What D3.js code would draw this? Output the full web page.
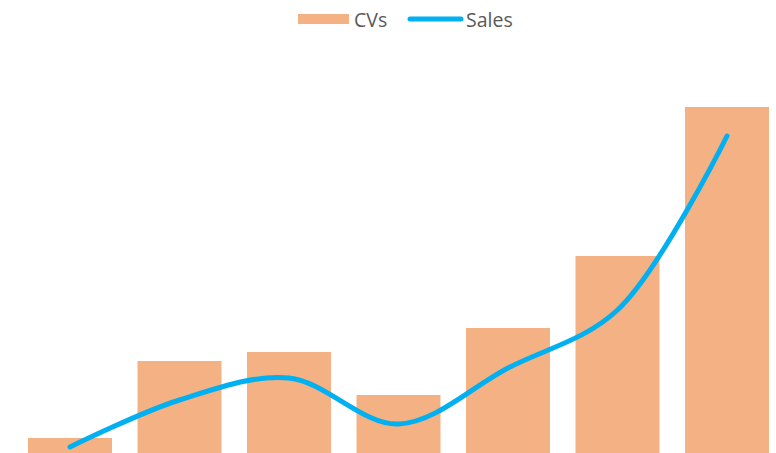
<!DOCTYPE html>
<html><head><meta charset="utf-8">
<script src="https://cdn.jsdelivr.net/npm/d3@7"></script>
<style>html,body{margin:0;padding:0;background:#fff;}svg{display:block;}</style>
</head><body>
<svg id="chart" width="776" height="453"></svg>
<script>
const categories = ["1","2","3","4","5","6","7"];
const cvs = [15, 92, 101, 58, 125, 197, 346];
const sales = [6, 53, 75, 29, 85, 143, 317];
const seriesNames = ["CVs", "Sales"];

const svg = d3.select("#chart");
const x = d3.scaleBand().domain(categories).range([28, 769]).paddingInner(0.233).paddingOuter(0);
const y = d3.scaleLinear().domain([0, 350]).range([453, 103]);

svg.selectAll("rect.bar").data(cvs).enter().append("rect")
  .attr("class","bar")
  .attr("x",(d,i)=>x(categories[i]))
  .attr("width",x.bandwidth())
  .attr("y",d=>y(d))
  .attr("height",d=>y(0)-y(d))
  .attr("fill","#F4B183");

const line = d3.line()
  .x((d,i)=>x(categories[i])+x.bandwidth()/2)
  .y(d=>y(d))
  .curve(d3.curveCatmullRom.alpha(0.5));
svg.append("path").datum(sales)
  .attr("d",line)
  .attr("fill","none")
  .attr("stroke","#00B0F0")
  .attr("stroke-width",5)
  .attr("stroke-linecap","round");

// legend
const lg = svg.append("g");
lg.append("rect").attr("x",298).attr("y",14).attr("width",51).attr("height",10).attr("fill","#F4B183");
lg.append("text").attr("x",354).attr("y",26.5).text(seriesNames[0])
  .attr("font-family","Open Sans, sans-serif").attr("font-size",19.5).attr("fill","#595959");
lg.append("line").attr("x1",410).attr("x2",461).attr("y1",19).attr("y2",19)
  .attr("stroke","#00B0F0").attr("stroke-width",5).attr("stroke-linecap","round");
lg.append("text").attr("x",466).attr("y",26.5).text(seriesNames[1])
  .attr("font-family","Open Sans, sans-serif").attr("font-size",19.5).attr("fill","#595959");
</script>
</body></html>
